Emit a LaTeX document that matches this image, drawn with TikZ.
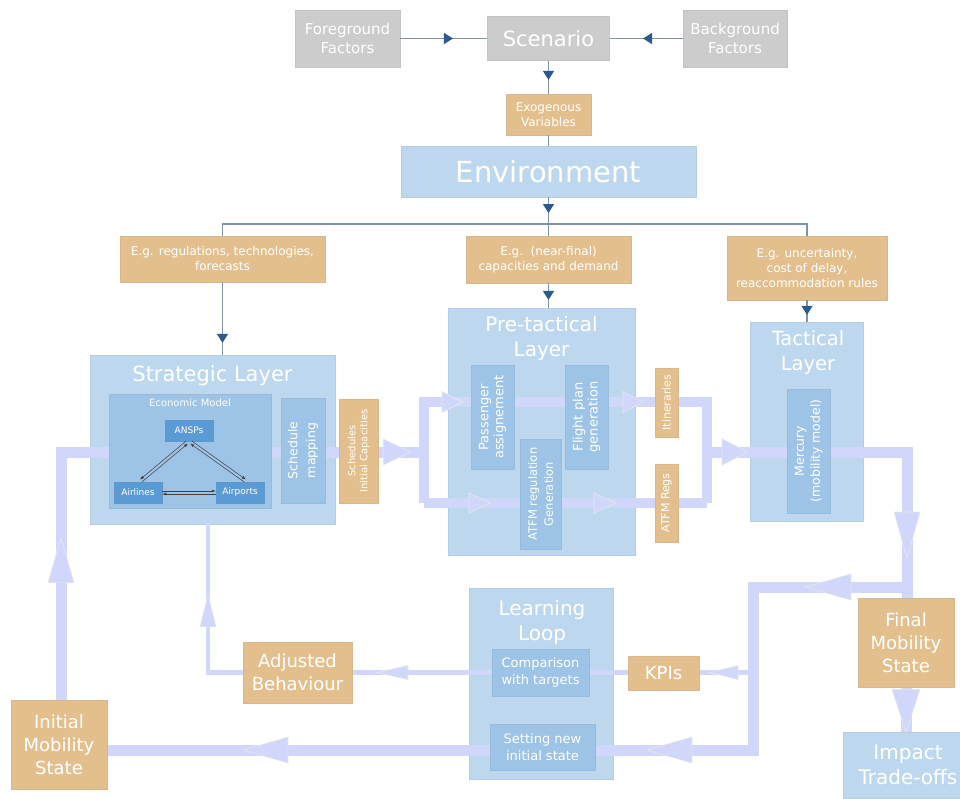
\documentclass[tikz,border=0pt]{standalone}
\usepackage{fontspec}
\setmainfont{DejaVu Sans}
\usetikzlibrary{arrows.meta,decorations.markings,calc}
\definecolor{graybox}{HTML}{CCCCCC}
\definecolor{tanbox}{HTML}{E3BF8E}
\definecolor{ltblue}{HTML}{BDD7EE}
\definecolor{mdblue}{HTML}{9DC3E6}
\definecolor{dkblue}{HTML}{5B9BD5}
\definecolor{flowc}{HTML}{D0D7FA}
\definecolor{flowedge}{HTML}{E4E6EE}
\definecolor{connc}{HTML}{7D93A8}
\definecolor{headc}{HTML}{2A5B8C}
\newcommand\fz[2]{\fontsize{#1pt}{#2pt}\selectfont}
\tikzset{
  anybox/.style={inner sep=0pt, align=center, text=white, fill=#1, draw=#1!88!gray, line width=0.5pt},
  graynode/.style={anybox=graybox},
  tannode/.style={anybox=tanbox},
  layernode/.style={anybox=ltblue},
  innernode/.style={anybox=mdblue},
  agentnode/.style={anybox=dkblue, minimum width=48pt, minimum height=21pt, font=\fz{9}{11}},
  titletext/.style={inner sep=0pt, align=center, text=white},
  conn/.style={draw=connc, line width=1.2pt},
  dhead/.style={postaction={decorate, decoration={markings, mark=at position #1 with {\arrow[color=headc]{Triangle[length=9pt,width=11pt]}}}}},
  flowthick/.style={draw=flowc, line width=11pt},
  flowmid/.style={draw=flowc, line width=9.5pt},
  flowthin/.style={draw=flowc, line width=4.5pt},
  fhead/.style args={#1/#2/#3}{postaction={decorate, decoration={markings, mark=at position #1pt with {\filldraw[fill=flowc, draw=flowedge, line width=0.7pt, line join=miter] (-#2/2,-#3) -- (#2/2,0) -- (-#2/2,#3) -- cycle;}}}},
  ecoarrow/.style={draw=black!75, line width=0.5pt, -{Latex[length=4pt,width=3pt]}},
}
\begin{document}
\begin{tikzpicture}[x=1pt,y=-1pt]
\useasboundingbox (0,0) rectangle (960,798);
% ---------- top ----------
\node[graynode, minimum width=105pt, minimum height=57pt, font=\fz{15}{19}] (fg) at (347.5,38.5) {Foreground\\Factors};
\node[graynode, minimum width=122pt, minimum height=44pt, font=\fz{21}{25}] (scen) at (548.5,38.5) {Scenario};
\node[graynode, minimum width=104pt, minimum height=57pt, font=\fz{15}{19}] (bg) at (735,38.5) {Background\\Factors};
\node[tannode, minimum width=85pt, minimum height=41pt, font=\fz{12}{15}] (exo) at (548.5,114.5) {Exogenous\\Variables};
\node[layernode, minimum width=295pt, minimum height=51pt, font=\fz{29}{35}] (env) at (548.5,171.5) {Environment};
\coordinate (junc) at (548.5,224);
\node[tannode, minimum width=205pt, minimum height=46pt, font=\fz{12}{15}] (eg1) at (222.5,259) {E.g. regulations, technologies,\\forecasts};
\node[tannode, minimum width=165pt, minimum height=47pt, font=\fz{12}{15}] (eg2) at (548.5,259.5) {E.g.\ \ (near-final)\\capacities and demand};
\node[tannode, minimum width=160pt, minimum height=64pt, font=\fz{12}{15}] (eg3) at (807,268) {E.g. uncertainty,\\cost of delay,\\reaccommodation rules};
% ---------- layers ----------
\node[layernode, minimum width=245pt, minimum height=169pt] (strat) at (212.5,439.5) {};
\node[layernode, minimum width=187pt, minimum height=247pt] (pret) at (541.5,431.5) {};
\node[layernode, minimum width=113pt, minimum height=199pt] (tact) at (806.5,421.5) {};
\node[layernode, minimum width=144pt, minimum height=191pt] (learn) at (541,683.5) {};
\node[layernode, minimum width=130pt, minimum height=66pt, font=\fz{20}{25}] (impact) at (908,765) {Impact\\Trade-offs};
\node[titletext, font=\fz{21}{26}] (strat-t) at (212.5,376) {Strategic Layer};
\node[titletext, font=\fz{20}{24.5}] (pret-t) at (541.5,338.5) {Pre-tactical\\Layer};
\node[titletext, font=\fz{19.5}{25}] (tact-t) at (808,352.4) {Tactical\\Layer};
\node[titletext, font=\fz{20}{24.5}] (learn-t) at (542,622.6) {Learning\\Loop};
% ---------- flow coordinates ----------
\coordinate (lcorner) at (61,452);
\coordinate (pl) at (424,452);
\coordinate (ptl) at (424,402);
\coordinate (pbl) at (424,503);
\coordinate (ptr) at (707,402);
\coordinate (pbr) at (707,503);
\coordinate (pr) at (707,452);
\coordinate (rtop) at (907,452);
\coordinate (rj) at (907,587);
\coordinate (rbt) at (753,587);
\coordinate (rbb) at (753,750);
\coordinate (rk) at (753,672.5);
\coordinate (adjcorner) at (208,672.5);
% ---------- boxes needed for anchors (drawn again later on top) ----------
\path node[tannode, minimum width=96pt, minimum height=89pt, font=\fz{18}{23}] (init) at (59,744.5) {Initial\\Mobility\\State};
\path node[tannode, minimum width=96pt, minimum height=89pt, font=\fz{18}{23}] (final) at (906,642.5) {Final\\Mobility\\State};
\path node[tannode, minimum width=109pt, minimum height=61pt, font=\fz{18}{23}] (adj) at (297.5,672.5) {Adjusted\\Behaviour};
% ---------- flows ----------
\draw[flowthick, fhead=79/46/13, fhead=400.5/45/13, fhead=804.5/45/13] (rj) -- (rbt) -- (rbb) -- (rbb -| init.east);
\draw[flowthick, fhead=28/26/13, fhead=283/46/13] (pr) -- (rtop) -- (rtop |- final.north);
\draw[flowthick, fhead=139.5/45/13, fhead=583.5/27/13] (lcorner |- init.north) -- (lcorner) -- (pl);
\draw[flowmid, fhead=129.5/21/10.5, fhead=310/20/10.5] (pbl) -- (ptl) -- (ptr) -- (pbr);
\draw[flowmid, fhead=55.5/21/10, fhead=181/22/10] (pbl) -- (pbr);
\draw[flowthin, fhead=29/28/7, fhead=360.5/31/7] (rk) -- (rk -| adj.east);
\draw[flowthin, fhead=96.5/32/8] (adj.west) -- (adjcorner) -- (adjcorner |- strat.south);
\draw[flowthick, fhead=23.5/43/14] (final.south) -- (final.south |- impact.north);
% ---------- inner boxes ----------
\node[innernode, minimum width=162pt, minimum height=114pt] (eco) at (190,451) {};
\node[titletext, font=\fz{10}{12}] (eco-t) at (190,403) {Economic Model};
\node[agentnode] (ansp) at (189,430.5) {ANSPs};
\node[agentnode] (airl) at (138,492.5) {Airlines};
\node[agentnode] (airp) at (240,492.5) {Airports};
\node[innernode, rotate=90, minimum width=105pt, minimum height=44pt, font=\fz{12.5}{18}] (smap) at (303,450.5) {Schedule\\mapping};
\node[tannode, rotate=90, minimum width=104pt, minimum height=39pt, font=\fz{10}{12}] (sched) at (358.5,451) {Schedules\\Initial Capacities};
\node[innernode, rotate=90, minimum width=104pt, minimum height=43pt, font=\fz{13}{15}] (pass) at (492.5,417) {Passenger\\assignement};
\node[innernode, rotate=90, minimum width=104pt, minimum height=43pt, font=\fz{13}{15}] (fpg) at (586.5,417) {Flight plan\\generation};
\node[innernode, rotate=90, minimum width=110pt, minimum height=41pt, font=\fz{11.5}{16}] (atfmg) at (540.5,494) {ATFM regulation\\Generation};
\node[tannode, rotate=90, minimum width=69pt, minimum height=23pt, font=\fz{11}{13}] (itin) at (666.5,402.5) {Itineraries};
\node[tannode, rotate=90, minimum width=78pt, minimum height=23pt, font=\fz{11}{13}] (aregs) at (666.5,503) {ATFM Regs};
\node[innernode, rotate=90, minimum width=124pt, minimum height=43pt, font=\fz{12.5}{16}] (merc) at (808.5,451) {Mercury\\(mobility model)};
\node[innernode, minimum width=97pt, minimum height=47pt, font=\fz{13}{17}] (cmp) at (540.5,672.5) {Comparison\\with targets};
\node[innernode, minimum width=105pt, minimum height=46pt, font=\fz{13}{16.5}] (setn) at (542.5,747) {Setting new\\initial state};
\node[tannode, minimum width=71pt, minimum height=34pt, font=\fz{18}{22}] (kpi) at (663.5,673) {KPIs};
\node[tannode, minimum width=96pt, minimum height=89pt, font=\fz{18}{23}] (init-top) at (init) {Initial\\Mobility\\State};
\node[tannode, minimum width=96pt, minimum height=89pt, font=\fz{18}{23}] (final-top) at (final) {Final\\Mobility\\State};
\node[tannode, minimum width=109pt, minimum height=61pt, font=\fz{18}{23}] (adj-top) at (adj) {Adjusted\\Behaviour};
% ---------- economic model arrows ----------
\draw[ecoarrow] ($(ansp.south)+(-3,-0.15)$) -- ($(airl.north)+(2,-2.15)$);
\draw[ecoarrow] ($(airl.north)+(4,0.15)$) -- ($(ansp.south)+(-1,2.15)$);
\draw[ecoarrow] ($(ansp.south)+(2.9,-0.2)$) -- ($(airp.north)+(5.9,-2.2)$);
\draw[ecoarrow] ($(airp.north)+(4.1,0.2)$) -- ($(ansp.south)+(1.1,2.2)$);
\draw[ecoarrow] ($(airl.east)+(0,-1.5)$) -- ($(airp.west)+(0,-1.5)$);
\draw[ecoarrow] ($(airp.west)+(0,1.5)$) -- ($(airl.east)+(0,1.5)$);
% ---------- dark connectors ----------
\draw[conn, dhead=0.606] (fg.east) -- (scen.west);
\draw[conn, dhead=0.544] (bg.west) -- (scen.east);
\draw[conn, dhead=0.58] (scen.south) -- (exo.north);
\draw[conn] (exo.south) -- (env.north);
\draw[conn, dhead=0.59] (env.south) -- (junc);
\draw[conn] (eg1.north) -- (eg1.north |- junc) -- (eg3.north |- junc) -- (eg3.north);
\draw[conn] (junc) -- (eg2.north);
\draw[conn, dhead=0.836] (eg1.south) -- (eg1.south |- strat.north);
\draw[conn, dhead=0.68] (eg2.south) -- (eg2.south |- pret.north);
\draw[conn, dhead=0.68] (eg3.south) -- (eg3.south |- tact.north);
\end{tikzpicture}
\end{document}
